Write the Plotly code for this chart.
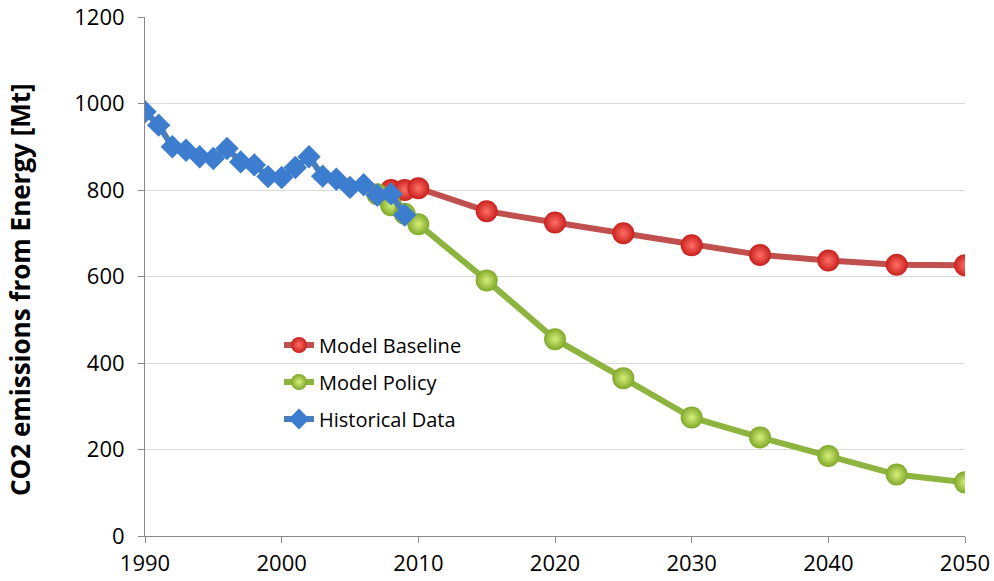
import plotly.graph_objects as go

hist_years = list(range(1990, 2010))
hist_vals = [981, 950, 900, 892, 877, 873, 896, 865, 858, 831, 829, 852, 877, 832, 825, 806, 812, 788, 791, 742]

base_years = [2008, 2009, 2010, 2015, 2020, 2025, 2030, 2035, 2040, 2045, 2050]
base_vals = [800, 800, 804, 751, 725, 700, 672, 650, 637, 627, 626]

policy_years = [2007, 2008, 2009, 2010, 2015, 2020, 2025, 2030, 2035, 2040, 2045, 2050]
policy_vals = [790, 765, 745, 721, 591, 455, 365, 274, 228, 185, 142, 124]

FONT = "Open Sans"

fig = go.Figure()
fig.add_trace(go.Scatter(
    x=base_years, y=base_vals, name="Model Baseline", mode="lines+markers",
    line=dict(color="#C0504D", width=6),
    marker=dict(symbol="circle", size=22, color="#C8201C",
                gradient=dict(type="radial", color="#FF6F66"),
                line=dict(width=0)),
    legend="legend",
))
fig.add_trace(go.Scatter(
    x=policy_years, y=policy_vals, name="Model Policy", mode="lines+markers",
    line=dict(color="#8DB43E", width=6),
    marker=dict(symbol="circle", size=22, color="#7FA82A",
                gradient=dict(type="radial", color="#D6F07A"),
                line=dict(width=0)),
    legend="legend2",
))
fig.add_trace(go.Scatter(
    x=hist_years, y=hist_vals, name="Historical Data", mode="lines+markers",
    line=dict(color="#4A7EBB", width=6),
    marker=dict(symbol="diamond", size=18, color="#3C7DD0",
                line=dict(width=0)),
    legend="legend3",
))

leg_common = dict(xanchor="left", yanchor="middle", bgcolor="rgba(0,0,0,0)",
                  font=dict(size=20, family=FONT), itemwidth=30,
                  xref="paper", yref="paper")
# plot area in page pixels: x 145..965 (820 px), y 17..536 (519 px)
def px(xpix):
    return (xpix - 145) / 820.0

def py(ypix):
    return (536 - ypix) / 519.0

fig.update_layout(
    width=994, height=581,
    margin=dict(l=145, r=29, t=17, b=45),
    paper_bgcolor="white", plot_bgcolor="white",
    font=dict(family=FONT, size=22, color="black"),
    showlegend=True,
    legend=dict(x=px(279), y=py(345), **leg_common),
    legend2=dict(x=px(279), y=py(382), **leg_common),
    legend3=dict(x=px(279), y=py(419), **leg_common),
    xaxis=dict(range=[1990, 2050], tickvals=[1990, 2000, 2010, 2020, 2030, 2040, 2050],
               showgrid=False, zeroline=False, showline=True, linecolor="#888888",
               linewidth=1, ticks="outside", ticklen=6, tickcolor="#888888",
               tickfont=dict(size=22), automargin=False, ticklabeloverflow="allow",
               ticklabelstandoff=2),
    yaxis=dict(range=[0, 1200], tickvals=[0, 200, 400, 600, 800, 1000, 1200],
               showgrid=True, gridcolor="#D9D9D9", gridwidth=1, zeroline=False,
               showline=True, linecolor="#888888", linewidth=1,
               ticks="outside", ticklen=6, tickcolor="#888888",
               tickfont=dict(size=22), automargin=False, ticklabeloverflow="allow",
               ticklabelstandoff=9),
    annotations=[dict(text="<b>CO2 emissions from Energy [Mt]</b>", textangle=-90,
                      xref="paper", yref="paper", x=px(20), y=py(290),
                      xanchor="center", yanchor="middle", showarrow=False,
                      font=dict(size=26, family=FONT))],
)

fig.write_html("out.html", config={"displayModeBar": False},
               post_script="document.body.style.margin='0px';")
